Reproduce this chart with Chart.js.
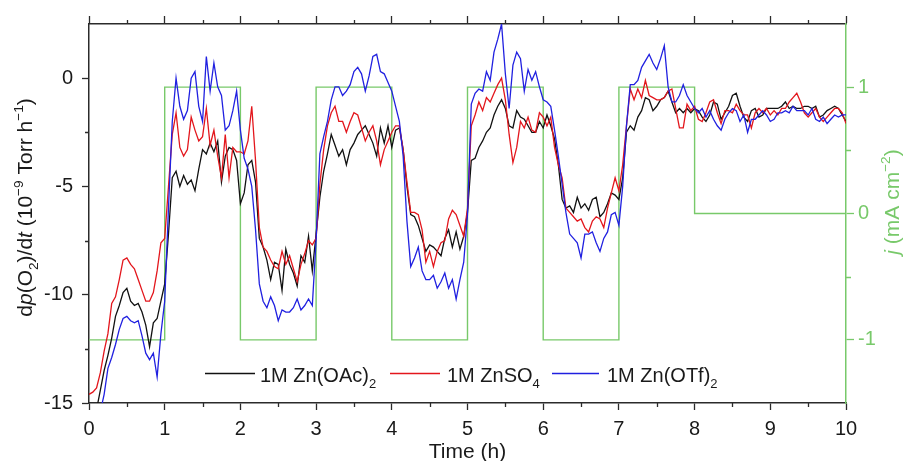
<!DOCTYPE html>
<html>
<head>
<meta charset="utf-8">
<script src="https://cdn.jsdelivr.net/npm/chart.js@4.4.1/dist/chart.umd.min.js"></script>
<style>
  html, body { margin: 0; padding: 0; background: #fff; }
  canvas { display: block; }
</style>
</head>
<body>
<canvas id="chart" width="909" height="461"></canvas>
<script>
// sampling grid, one reading every 0.05 h
const hours = Array.from({ length: 201 }, (_, i) => +(i * 0.05).toFixed(2));

// dp(O2)/dt, 10^-9 Torr h^-1 (rows = one hour each)
const znOAc = [
  -16.5,-16,-15.3,-14.4,-13.5,-12.8,-12.0,-11.0,-10.5,-9.9,-9.7,-10.3,-10.5,-10.4,-10.8,-11.4,-12.4,-11.3,-11.1,-10.3,
  -9.5,-7.2,-4.6,-4.3,-5.0,-4.5,-4.9,-4.7,-5.2,-4.2,-3.3,-3.5,-3.0,-3.4,-2.9,-4.8,-3.6,-3.2,-3.3,-3.8,
  -5.8,-5.3,-4.0,-3.8,-4.8,-7.4,-7.8,-8.4,-9.3,-8.5,-8.6,-9.8,-7.9,-8.6,-9.0,-9.6,-8.2,-8.5,-7.3,-8.9,
  -7.2,-5.5,-4.3,-3.5,-2.6,-3.1,-3.6,-3.3,-4.0,-3.3,-3.0,-2.6,-2.4,-2.2,-2.6,-3.0,-3.6,-2.3,-3.0,-2.2,
  -3.2,-2.4,-2.3,-3.3,-5.0,-6.3,-6.4,-6.8,-7.4,-8.0,-7.7,-7.8,-8.0,-8.2,-7.4,-7.0,-7.8,-7.1,-7.9,-7.3,
  -6.2,-3.8,-3.7,-3.2,-2.9,-2.5,-2.3,-1.7,-1.3,-1.0,-1.4,-2.2,-2.3,-1.5,-1.8,-1.9,-2.2,-2.5,-2.5,-2.0,
  -2.3,-1.7,-2.2,-2.8,-4.0,-5.6,-6.0,-5.9,-6.2,-5.5,-6.0,-5.8,-6.1,-5.6,-5.5,-6.4,-6.2,-5.8,-5.3,-5.4,
  -5.6,-4.6,-2.5,-2.2,-2.4,-1.8,-1.5,-0.9,-1.0,-1.5,-1.3,-1.0,-0.9,-0.6,-1.1,-1.6,-1.4,-1.6,-1.4,-1.6,
  -1.4,-1.5,-1.8,-2.0,-1.7,-1.1,-1.2,-1.9,-1.6,-1.3,-0.8,-0.7,-1.3,-1.8,-2.0,-1.5,-1.4,-1.8,-1.7,-1.4,
  -1.4,-1.4,-1.4,-1.3,-1.1,-1.4,-1.3,-1.4,-1.4,-1.3,-1.3,-1.4,-1.3,-1.8,-1.7,-1.5,-1.4,-1.3,-1.4,-1.7,
  -2.0
];
const znSO4 = [
  -14.6,-14.5,-14.3,-13.6,-12.6,-11.8,-10.4,-10.1,-9.3,-8.4,-8.3,-8.6,-8.8,-9.3,-9.8,-10.3,-10.3,-9.9,-8.9,-7.6,
  -7.4,-5.0,-2.6,-1.6,-3.2,-3.6,-3.3,-1.8,-2.4,-2.9,-2.7,-1.4,-3.1,-2.4,-3.6,-4.6,-2.6,-4.6,-3.2,-3.4,
  -3.4,-3.5,-2.9,-1.3,-3.8,-6.9,-7.8,-8.0,-8.4,-8.7,-8.8,-8.0,-8.6,-8.2,-8.8,-9.4,-8.6,-8.1,-7.5,-7.7,
  -7.4,-4.9,-3.3,-2.2,-1.6,-1.3,-2.0,-2.0,-2.5,-2.0,-1.6,-1.7,-2.3,-2.9,-2.5,-2.2,-2.9,-4.0,-3.3,-2.9,
  -2.5,-2.2,-2.2,-3.3,-4.8,-6.2,-6.2,-6.3,-7.0,-8.5,-8.0,-8.7,-8.0,-7.6,-7.5,-6.5,-6.1,-6.3,-6.8,-7.3,
  -6.0,-2.2,-1.7,-1.1,-1.5,-0.9,-1.1,-0.7,-0.3,0.0,-1.0,-2.6,-3.9,-3.2,-2.0,-2.3,-1.8,-2.4,-2.5,-1.6,
  -1.8,-2.2,-1.8,-3.2,-4.0,-4.6,-6.0,-6.2,-6.4,-6.6,-6.5,-6.9,-7.1,-6.6,-6.4,-6.5,-6.9,-6.0,-5.3,-4.6,
  -5.2,-4.0,-2.2,-0.5,-1.0,-0.5,-0.9,-0.1,-0.8,-0.9,-1.0,-1.0,-0.9,-0.6,-0.5,-1.4,-2.3,-2.3,-1.2,-1.5,
  -1.3,-1.9,-2.0,-1.6,-1.1,-1.0,-1.6,-2.1,-1.5,-1.5,-1.6,-1.2,-1.5,-1.7,-1.7,-2.3,-1.6,-1.4,-1.6,-1.4,
  -1.7,-1.5,-1.7,-1.4,-1.4,-1.1,-0.9,-0.7,-1.1,-1.6,-1.8,-1.6,-1.4,-1.8,-2.0,-1.8,-1.6,-1.4,-1.4,-1.6,
  -2.1
];
const znOTf = [
  -17.5,-17.0,-16.3,-15.4,-14.6,-13.4,-12.9,-12.3,-11.6,-11.1,-11.0,-11.2,-11.3,-11.2,-11.9,-12.7,-13.0,-12.7,-13.8,-11.8,
  -10.3,-6.0,-2.0,0.0,-1.3,-1.9,-1.5,0.0,0.3,-1.3,-2.0,1.0,-0.6,0.7,-0.4,-0.8,-2.4,-2.2,-1.5,-0.6,
  -2.4,-3.7,-4.2,-5.0,-7.0,-9.5,-10.3,-10.6,-10.1,-10.5,-11.2,-10.7,-10.8,-10.8,-10.6,-10.2,-10.7,-10.5,-10.2,-10.5,
  -7.5,-3.5,-2.7,-2.0,-1.0,-0.4,-0.4,-0.8,-0.6,-0.3,0.3,0.5,0.2,-0.6,0.1,1.0,1.1,0.3,0.2,-0.2,
  -0.6,-1.3,-2.0,-3.6,-6.6,-8.7,-8.3,-7.8,-8.9,-9.3,-9.3,-9.1,-9.7,-9.4,-9.0,-9.7,-9.3,-10.2,-9.3,-8.5,
  -6.3,-1.2,-0.7,-0.5,-0.6,0.3,-0.1,1.2,1.8,2.5,0.2,-1.4,0.6,1.2,0.9,-0.6,0.4,-0.1,0.3,-0.4,
  -1.0,-1.1,-1.3,-2.4,-3.6,-4.9,-6.2,-7.2,-7.4,-7.6,-8.3,-7.2,-7.2,-7.1,-7.6,-8.0,-7.4,-7.1,-6.3,-6.2,
  -6.8,-5.0,-2.2,-0.3,-0.3,-0.1,0.5,0.8,1.1,0.7,0.4,0.9,1.5,-0.4,-1.1,-1.1,-0.8,-0.3,-0.8,-1.1,
  -1.4,-1.6,-1.4,-1.8,-1.5,-1.9,-2.2,-2.4,-1.9,-1.6,-1.4,-1.5,-2.0,-1.7,-2.5,-1.9,-1.9,-1.7,-1.5,-1.7,
  -2.0,-1.9,-1.6,-1.6,-1.5,-1.6,-1.3,-1.5,-1.5,-1.5,-1.7,-1.4,-1.9,-2.0,-1.8,-2.1,-1.9,-1.7,-1.8,-1.7,
  -1.7
];

// applied current density j (mA cm^-2), each value held until the next hour mark
const stepHours = [0, 1, 2, 3, 4, 5, 6, 7, 8, 10];
const stepCurrent = [-1, 1, -1, 1, -1, 1, -1, 1, 0, 0];

const xTicks = [0, 1, 2, 3, 4, 5, 6, 7, 8, 9, 10];
const xMinor = [0.5, 1.5, 2.5, 3.5, 4.5, 5.5, 6.5, 7.5, 8.5, 9.5];
const yTicks = [-15, -10, -5, 0];
const yMinor = [-12.5, -7.5, -2.5];
const jTicks = [-1, 0, 1];
const jMinor = [-0.5, 0.5];

const FONT = "'Liberation Sans', Arial, sans-serif";
const AXIS = "#2b2b2b";
const GREEN = "#78c96a";

const pairs = (xs, ys) => xs.map((x, i) => ({ x: x, y: ys[i] }));
const fixTicks = list => scale => { scale.ticks = list.map(v => ({ value: v })); };

// text with italic / sub / superscript pieces
function richWidth(ctx, segs, size) {
  let w = 0;
  segs.forEach(s => {
    const sz = s.sub || s.sup ? size * 0.65 : size;
    ctx.font = (s.it ? "italic " : "") + sz + "px " + FONT;
    w += ctx.measureText(s.t).width;
  });
  return w;
}
function drawRich(ctx, segs, x, y, size) {
  let cx = x;
  segs.forEach(s => {
    const sz = s.sub || s.sup ? size * 0.65 : size;
    ctx.font = (s.it ? "italic " : "") + sz + "px " + FONT;
    const dy = s.sub ? size * 0.28 : s.sup ? -size * 0.42 : 0;
    ctx.fillText(s.t, cx, y + dy);
    cx += ctx.measureText(s.t).width;
  });
  return cx;
}

const yTitle = [
  { t: "d" }, { t: "p", it: true }, { t: "(O" }, { t: "2", sub: true }, { t: ")/d" },
  { t: "t", it: true }, { t: " (10" }, { t: "\u22129", sup: true }, { t: " Torr h" },
  { t: "\u22121", sup: true }, { t: ")" }
];
const jTitle = [{ t: "j", it: true }, { t: " (mA cm" }, { t: "\u22122", sup: true }, { t: ")" }];
const legendItems = [
  { color: "#111111", x0: 205, x1: 255, tx: 260, segs: [{ t: "1M Zn(OAc)" }, { t: "2", sub: true }] },
  { color: "#e3161c", x0: 390, x1: 440, tx: 447, segs: [{ t: "1M ZnSO" }, { t: "4", sub: true }] },
  { color: "#2020e0", x0: 552, x1: 599, tx: 607, segs: [{ t: "1M Zn(OTf)" }, { t: "2", sub: true }] }
];

const decorations = {
  id: "decorations",
  afterDraw(chart) {
    const ctx = chart.ctx;
    const area = chart.chartArea;
    const { x, y, y2 } = chart.scales;
    ctx.save();

    // minor ticks
    ctx.lineWidth = 1.3;
    ctx.strokeStyle = AXIS;
    ctx.beginPath();
    xMinor.forEach(v => {
      const px = Math.round(x.getPixelForValue(v)) + 0.5;
      ctx.moveTo(px, area.bottom); ctx.lineTo(px, area.bottom + 4);
      ctx.moveTo(px, area.top); ctx.lineTo(px, area.top - 4);
    });
    yMinor.forEach(v => {
      const py = Math.round(y.getPixelForValue(v)) + 0.5;
      ctx.moveTo(area.left, py); ctx.lineTo(area.left - 4, py);
    });
    ctx.stroke();
    ctx.strokeStyle = GREEN;
    ctx.beginPath();
    jMinor.forEach(v => {
      const py = Math.round(y2.getPixelForValue(v)) + 0.5;
      ctx.moveTo(area.right, py); ctx.lineTo(area.right + 5, py);
    });
    ctx.stroke();

    // axis titles
    ctx.textAlign = "left";
    ctx.textBaseline = "alphabetic";
    ctx.fillStyle = "#1a1a1a";
    ctx.font = "21px " + FONT;
    const tw = ctx.measureText("Time (h)").width;
    ctx.fillText("Time (h)", (area.left + area.right) / 2 - tw / 2, 458);

    ctx.save();
    ctx.translate(32, (area.top + area.bottom) / 2 - 6);
    ctx.rotate(-Math.PI / 2);
    drawRich(ctx, yTitle, -richWidth(ctx, yTitle, 21) / 2, 0, 21);
    ctx.restore();

    ctx.save();
    ctx.fillStyle = GREEN;
    ctx.translate(899, 202);
    ctx.rotate(-Math.PI / 2);
    drawRich(ctx, jTitle, -richWidth(ctx, jTitle, 21) / 2, 0, 21);
    ctx.restore();

    // legend
    legendItems.forEach(item => {
      ctx.strokeStyle = item.color;
      ctx.lineWidth = 1.4;
      ctx.beginPath();
      ctx.moveTo(item.x0, 373.5); ctx.lineTo(item.x1, 373.5);
      ctx.stroke();
      ctx.fillStyle = "#1a1a1a";
      drawRich(ctx, item.segs, item.tx, 382, 20);
    });
    ctx.restore();
  }
};

const seriesLine = (label, values, color) => ({
  label: label,
  data: pairs(hours, values),
  borderColor: color,
  borderWidth: 1.3,
  pointRadius: 0,
  tension: 0,
  yAxisID: "y"
});

new Chart(document.getElementById("chart").getContext("2d"), {
  type: "line",
  data: {
    datasets: [
      seriesLine("1M Zn(OTf)2", znOTf, "#2020e0"),
      seriesLine("1M ZnSO4", znSO4, "#e3161c"),
      seriesLine("1M Zn(OAc)2", znOAc, "#111111"),
      {
        label: "j",
        data: pairs(stepHours, stepCurrent),
        borderColor: GREEN,
        borderWidth: 1.4,
        pointRadius: 0,
        stepped: "before",
        yAxisID: "y2"
      }
    ]
  },
  options: {
    responsive: false,
    animation: false,
    layout: { padding: { top: 24, left: 0, right: 0, bottom: 0 } },
    plugins: { legend: { display: false }, tooltip: { enabled: false } },
    scales: {
      x: {
        type: "linear", position: "bottom", min: 0, max: 10,
        afterBuildTicks: fixTicks(xTicks),
        afterFit: s => { s.height = 58; },
        ticks: { color: "#1a1a1a", font: { family: FONT, size: 20 }, padding: 7, maxRotation: 0 },
        grid: { drawOnChartArea: false, tickLength: 7, tickColor: AXIS, tickWidth: 1.3 },
        border: { color: AXIS, width: 1.5 }
      },
      xTop: {
        type: "linear", position: "top", min: 0, max: 10,
        afterBuildTicks: fixTicks(xTicks),
        afterFit: s => { s.height = 0; },
        ticks: { display: false },
        grid: { drawOnChartArea: false, tickLength: 8, tickColor: AXIS, tickWidth: 1.3 },
        border: { color: AXIS, width: 1.5 }
      },
      y: {
        type: "linear", position: "left", min: -15, max: 2.5,
        afterBuildTicks: fixTicks(yTicks),
        afterFit: s => { s.width = 89; },
        ticks: { color: "#1a1a1a", font: { family: FONT, size: 20 }, padding: 9 },
        grid: { drawOnChartArea: false, tickLength: 7, tickColor: AXIS, tickWidth: 1.3 },
        border: { color: AXIS, width: 1.5 }
      },
      y2: {
        type: "linear", position: "right", min: -1.5, max: 1.5,
        afterBuildTicks: fixTicks(jTicks),
        afterFit: s => { s.width = 63; },
        ticks: { color: GREEN, font: { family: FONT, size: 20 }, padding: 4 },
        grid: { drawOnChartArea: false, tickLength: 8, tickColor: GREEN, tickWidth: 1.3 },
        border: { color: GREEN, width: 1.5 }
      }
    }
  },
  plugins: [decorations]
});
</script>
</body>
</html>
